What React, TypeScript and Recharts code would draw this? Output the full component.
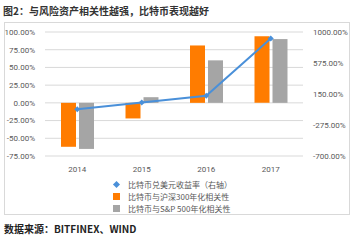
import { Bar, CartesianGrid, ComposedChart, Line, XAxis, YAxis } from 'recharts'

const YEARS = ['2014', '2015', '2016', '2017']
const BTC_RETURN = [-58, 35, 125, 910]
const CSI300_CORR = [-62, -22, 81, 94]
const SP500_CORR = [-65, 8, 60, 90]
const LEFT_TICKS = [-75, -50, -25, 0, 25, 50, 75, 100]
const RIGHT_TICKS = [-700, -275, 150, 575, 1000]

const ORANGE = '#ff7c00'
const GRAY = '#a5a5a5'
const BLUE = '#4a90d9'
const FONT = '"Noto Sans CJK SC", "Noto Sans", sans-serif'

const data = YEARS.map((year, i) => ({
  year,
  btc: BTC_RETURN[i],
  csi: CSI300_CORR[i],
  sp: SP500_CORR[i],
}))

const pct = (v: number) => `${v.toFixed(2)}%`
const tickStyle = { fontSize: 8, fill: '#595959', fontFamily: 'Roboto, "Liberation Sans", sans-serif' }

function Diamond({ cx, cy }: { cx?: number; cy?: number }) {
  if (cx == null || cy == null) return null
  return <path d={`M${cx},${cy - 3}L${cx + 3},${cy}L${cx},${cy + 3}L${cx - 3},${cy}Z`} fill={BLUE} />
}

const legendItems = [
  { label: '比特币兑美元收益率（右轴）', color: BLUE, diamond: true },
  { label: '比特币与沪深300年化相关性', color: ORANGE, diamond: false },
  { label: '比特币与S&P 500年化相关性', color: GRAY, diamond: false },
]

export default function App() {
  return (
    <div style={{ position: 'absolute', left: 0, top: 0, width: 360, height: 240, background: '#fff', fontFamily: FONT, overflow: 'hidden' }}>
      <div style={{ position: 'absolute', left: 3, top: 3, fontSize: 10, fontWeight: 700, color: '#333', whiteSpace: 'nowrap' }}>
        图2：与风险资产相关性越强，比特币表现越好
      </div>
      <div style={{ position: 'absolute', left: 4, top: 22, width: 344, height: 191, border: '1px solid #d9d9d9' }} />
      <div style={{ position: 'absolute', left: 0, top: 0 }}>
        <ComposedChart
          width={360}
          height={240}
          data={data}
          barSize={15}
          barGap={3}
          margin={{ top: 32, right: 7, bottom: 64, left: 5 }}
        >
          <CartesianGrid yAxisId="left" vertical={false} stroke="#d9d9d9" />
          <XAxis dataKey="year" axisLine={false} tickLine={false} tick={tickStyle} height={20} tickMargin={4} />
          <YAxis
            yAxisId="left"
            domain={[-75, 100]}
            ticks={LEFT_TICKS}
            tickFormatter={pct}
            axisLine={false}
            tickLine={false}
            tickSize={0}
            tickMargin={10}
            width={40}
            tick={tickStyle}
            interval={0}
          />
          <YAxis
            yAxisId="right"
            orientation="right"
            domain={[-700, 1000]}
            ticks={RIGHT_TICKS}
            tickFormatter={pct}
            axisLine={false}
            tickLine={false}
            tickSize={0}
            tickMargin={10}
            width={50}
            tick={tickStyle}
            interval={0}
          />
          <Bar yAxisId="left" dataKey="csi" fill={ORANGE} isAnimationActive={false} />
          <Bar yAxisId="left" dataKey="sp" fill={GRAY} isAnimationActive={false} />
          <Line
            yAxisId="right"
            dataKey="btc"
            stroke={BLUE}
            strokeWidth={2}
            dot={<Diamond />}
            activeDot={false}
            isAnimationActive={false}
          />
        </ComposedChart>
      </div>
      {legendItems.map((item, i) => (
        <div
          key={item.label}
          style={{ position: 'absolute', left: 113, top: 178 + i * 12, height: 12, display: 'flex', alignItems: 'center', fontSize: 8, color: '#595959', whiteSpace: 'nowrap' }}
        >
          <span
            style={{
              display: 'inline-block',
              width: item.diamond ? 5 : 7,
              height: item.diamond ? 5 : 7,
              background: item.color,
              transform: item.diamond ? 'rotate(45deg)' : undefined,
              marginLeft: item.diamond ? 1 : 0,
              marginRight: item.diamond ? 9 : 8,
            }}
          />
          {item.label}
        </div>
      ))}
      <div style={{ position: 'absolute', left: 4, top: 221, fontSize: 10, fontWeight: 700, color: '#222', whiteSpace: 'nowrap' }}>
        数据来源：BITFINEX、WIND
      </div>
    </div>
  )
}
